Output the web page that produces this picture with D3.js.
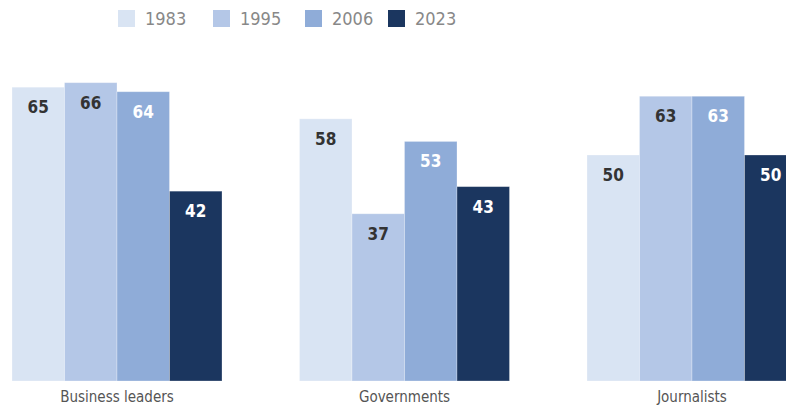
<!DOCTYPE html>
<html><head><meta charset="utf-8">
<script src="https://cdn.jsdelivr.net/npm/d3@7"></script>
<style>body{margin:0;background:#fff}svg{display:block}text{font-stretch:condensed}</style>
</head><body><svg id="c" width="786" height="410"></svg>
<script>
const categories = ["Business leaders", "Governments", "Journalists"];
const years = ["1983", "1995", "2006", "2023"];
const v1983 = [65, 58, 50];
const v1995 = [66, 37, 63];
const v2006 = [64, 53, 63];
const v2023 = [42, 43, 50];
const colors = ["#d9e4f3", "#b4c7e7", "#8facd8", "#1b365f"];
const labelColors = ["#333333", "#333333", "#ffffff", "#ffffff"];
const series = [v1983, v1995, v2006, v2023];

const font = "'Liberation Sans Narrow','DejaVu Sans Condensed','DejaVu Sans',sans-serif";
const svg = d3.select("#c");
const baseY = 381;
const x0 = d3.scaleBand().domain(categories).range([12, 12 + 287.5 * 2 + 210]).paddingInner(77.5 / 287.5).paddingOuter(0);
const x1 = d3.scaleBand().domain(years).range([0, x0.bandwidth()]);
const y = d3.scaleLinear().domain([0, 66]).range([baseY, baseY - 66 * 4.52]);

const data = [];
categories.forEach((c, i) => years.forEach((yr, j) => data.push({c, yr, j, v: series[j][i]})));

const g = svg.append("g");
g.selectAll("rect").data(data).join("rect")
  .attr("x", d => x0(d.c) + x1(d.yr))
  .attr("y", d => y(d.v))
  .attr("width", x1.bandwidth())
  .attr("height", d => baseY - y(d.v))
  .attr("fill", d => colors[d.j])
  .attr("stroke", "#ffffff").attr("stroke-opacity", 0.35).attr("stroke-width", 0.8);

g.selectAll("text.v").data(data).join("text").attr("class", "v")
  .attr("x", d => x0(d.c) + x1(d.yr) + x1.bandwidth() / 2)
  .attr("y", d => y(d.v) + 26)
  .attr("text-anchor", "middle")
  .attr("font-family", font).attr("font-weight", "bold").attr("font-size", 17)
  .attr("fill", d => labelColors[d.j])
  .text(d => d.v);

const xAxis = d3.axisBottom(x0).tickSize(0).tickPadding(10);
const ax = svg.append("g").attr("transform", `translate(0,${baseY})`).call(xAxis);
ax.select(".domain").remove();
ax.selectAll("text").attr("font-family", font).attr("font-size", 15).attr("fill", "#555555");

const legendX = [118, 213, 305, 388];
const lg = svg.append("g").selectAll("g").data(years).join("g")
  .attr("transform", (d, i) => `translate(${legendX[i]},10)`);
lg.append("rect").attr("width", 17).attr("height", 17).attr("fill", (d, i) => colors[i]);
lg.append("text").attr("x", 27).attr("y", 15).text(d => d)
  .attr("font-family", font).attr("font-size", 18).attr("fill", "#888888");
</script></body></html>
